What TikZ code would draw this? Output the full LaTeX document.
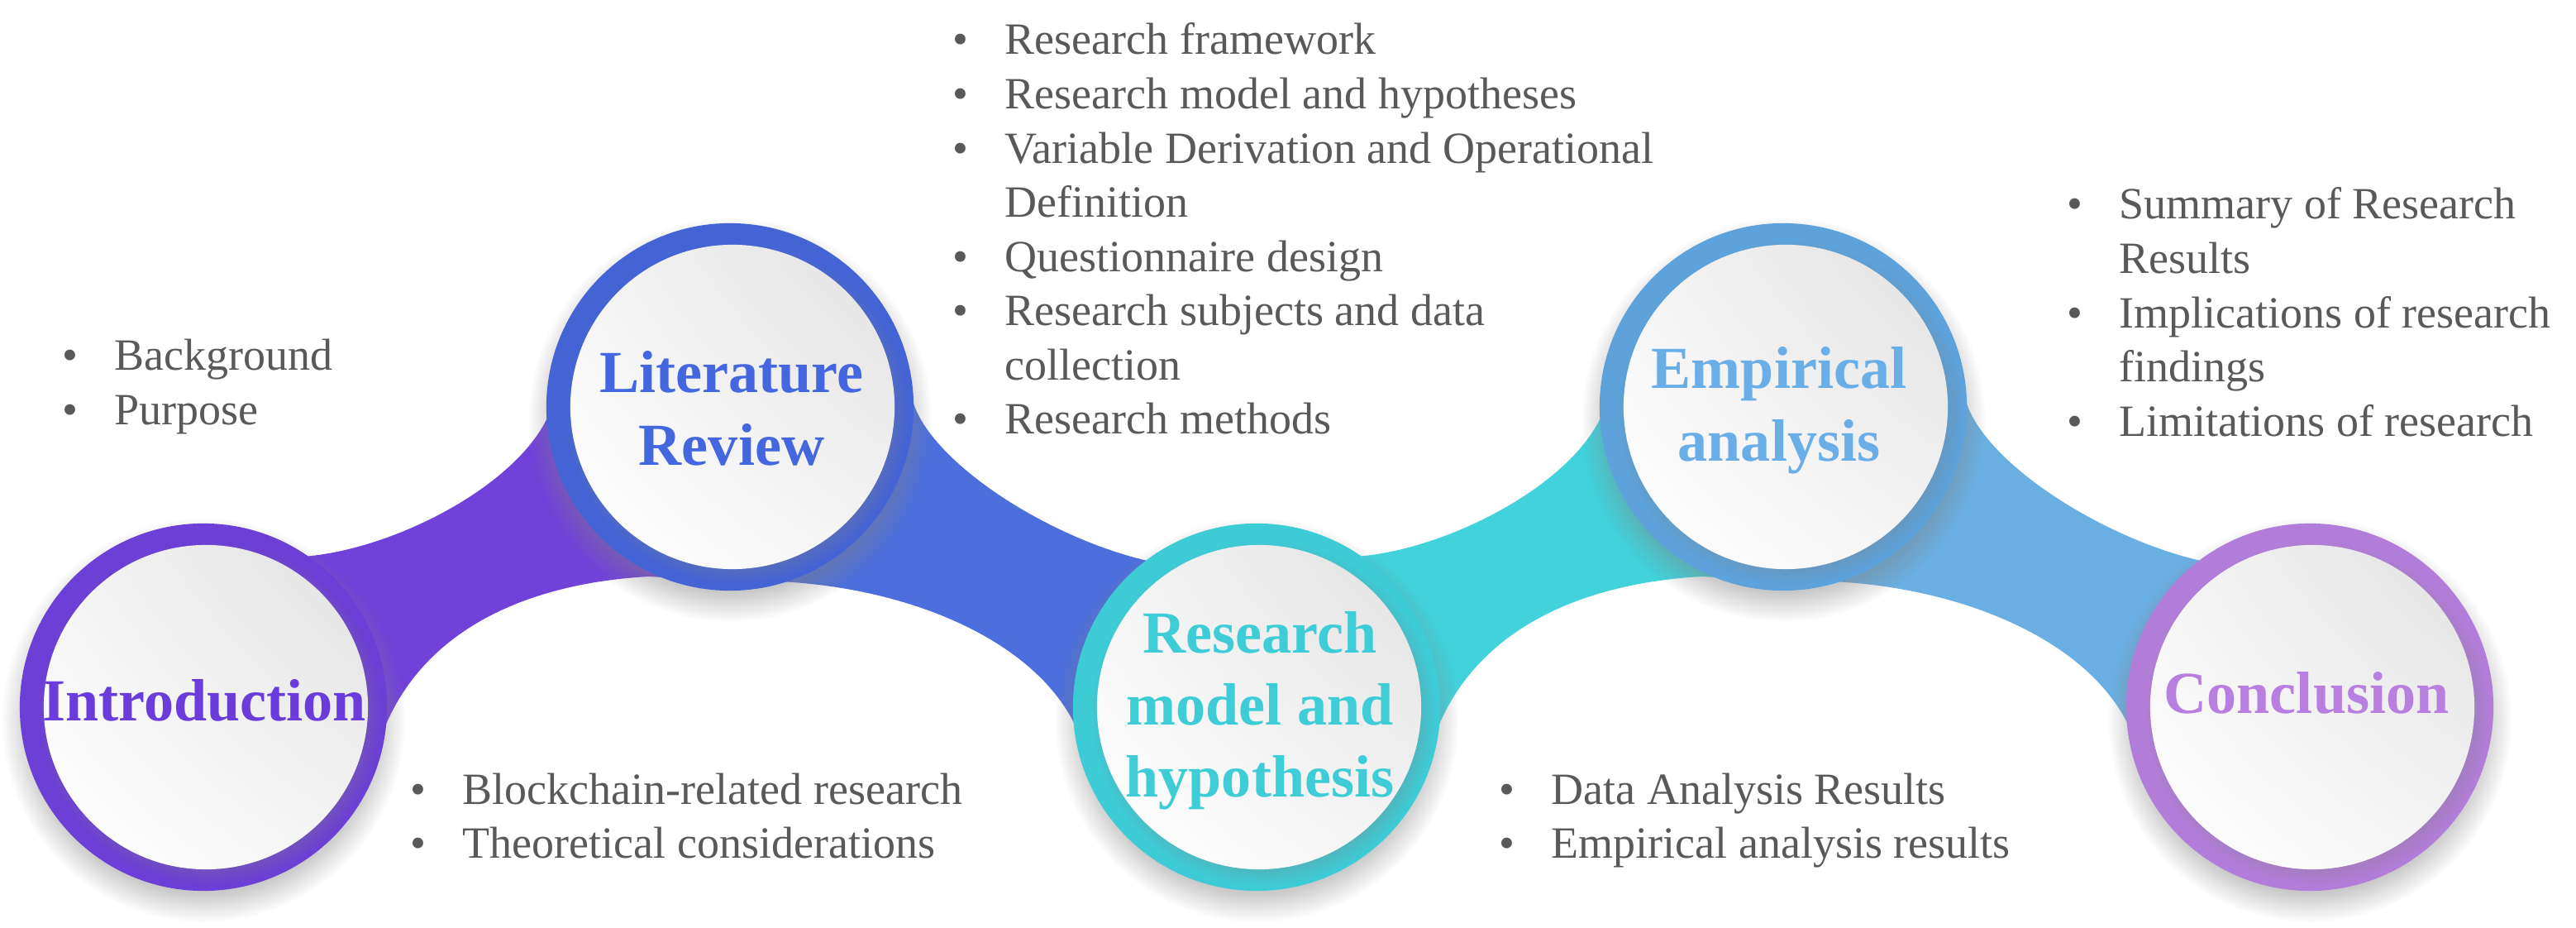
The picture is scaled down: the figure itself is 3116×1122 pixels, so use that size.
\documentclass[tikz,border=0pt]{standalone}
\usepackage{fontspec}
\setmainfont{Liberation Serif}
\usetikzlibrary{shadows,fadings,shadings}
\definecolor{bandA}{HTML}{7142DA}
\definecolor{ringA}{HTML}{6C3FD6}
\definecolor{textA}{HTML}{6A3CDB}
\definecolor{bandB}{HTML}{4C6FDD}
\definecolor{ringB}{HTML}{4464D6}
\definecolor{textB}{HTML}{4466DE}
\definecolor{bandC}{HTML}{41D2DB}
\definecolor{ringC}{HTML}{3DCBD6}
\definecolor{textC}{HTML}{3ECDD7}
\definecolor{bandD}{HTML}{6AAFE2}
\definecolor{ringD}{HTML}{5DA2DA}
\definecolor{textD}{HTML}{6AAEE8}
\definecolor{ringE}{HTML}{B27DD9}
\definecolor{textE}{HTML}{B77FDF}
\definecolor{txtgray}{HTML}{595959}
\begin{document}
\begin{tikzpicture}[x=0.01cm,y=-0.01cm,
  outerc/.style={circle,minimum size=4.44cm,inner sep=0pt,
     circular drop shadow={shadow xshift=0pt,shadow yshift=-4pt,shadow scale=1.1,opacity=0.42}},
  innerc/.style={circle,minimum size=3.92cm,inner sep=0pt,
     upper right=black!12,lower left=white,upper left=black!4,lower right=black!4,
     circular drop shadow={shadow xshift=1.5pt,shadow yshift=-2pt,shadow scale=1.06,opacity=0.4}},
  head/.style={anchor=base,inner sep=0pt,font=\fontsize{20.5}{24.75}\selectfont\bfseries},
  bul/.style={anchor=base west,inner sep=0pt,text=txtgray,font=\fontsize{15.36}{18.63}\selectfont}]
\useasboundingbox (0,0) rectangle (3116,1122);
\fill[white] (0,0) rectangle (3116,1122);
% bands
\fill[bandA] (246,855) -- (366,673) .. controls (480,665) and (640,580) .. (668,490) -- (883,492) -- (883,703) -- (785,697) .. controls (640,705) and (510,760) .. (462,888) -- cycle;
\fill[bandB] (883,492) -- (1103,481) .. controls (1121,556) and (1266,650) .. (1388,678) -- (1520,855) -- (1303,882) .. controls (1248,760) and (1058,695) .. (883,703) -- cycle;
\begin{scope}[shift={(1274,0)}]
\fill[bandC] (246,855) -- (366,673) .. controls (480,665) and (640,580) .. (668,490) -- (883,492) -- (883,703) -- (785,697) .. controls (640,705) and (510,760) .. (462,888) -- cycle;
\fill[bandD] (883,492) -- (1103,481) .. controls (1121,556) and (1266,650) .. (1388,678) -- (1520,855) -- (1303,882) .. controls (1248,760) and (1058,695) .. (883,703) -- cycle;
\end{scope}
% circles
\node[outerc,fill=ringA] (intro) at (246,855) {};
\node[innerc] (introdisc) at (249,855) {};
\node[outerc,fill=ringB] (lit) at (883,492) {};
\node[innerc] (litdisc) at (886,492) {};
\node[outerc,fill=ringC] (rm) at (1520,855) {};
\node[innerc] (rmdisc) at (1523,855) {};
\node[outerc,fill=ringD] (emp) at (2157,492) {};
\node[innerc] (empdisc) at (2160,492) {};
\node[outerc,fill=ringE] (conc) at (2794,855) {};
\node[innerc] (concdisc) at (2797,855) {};
% headings
\node[head,text=textA] (introT) at (247,871) {Introduction};
\node[head,text=textB] (litT) at (885,475) {\begin{tabular}[t]{@{}c@{}}Literature\\Review\end{tabular}};
\node[head,text=textC] (rmT) at (1524,789) {\begin{tabular}[t]{@{}c@{}}Research\\model and\\hypothesis\end{tabular}};
\node[head,text=textD] (empT) at (2152,470) {\begin{tabular}[t]{@{}c@{}}Empirical\\analysis\end{tabular}};
\node[head,text=textE] (concT) at (2790,862) {Conclusion};
% bullet lists
\node[bul] (listA) at (74.5,448) {\begin{tabular}[t]{@{}p{18.07pt}@{}l@{}}\textbullet & Background\\ \textbullet & Purpose\end{tabular}};
\node[bul] (listB) at (1151.5,66) {\begin{tabular}[t]{@{}p{18.07pt}@{}l@{}}\textbullet & Research framework\\ \textbullet & Research model and hypotheses\\ \textbullet & Variable Derivation and Operational\\ & Definition\\ \textbullet & Questionnaire design\\ \textbullet & Research subjects and data\\ & collection\\ \textbullet & Research methods\end{tabular}};
\node[bul] (listC) at (495.5,972) {\begin{tabular}[t]{@{}p{18.07pt}@{}l@{}}\textbullet & Blockchain-related research\\ \textbullet & Theoretical considerations\end{tabular}};
\node[bul] (listD) at (1812.5,972) {\begin{tabular}[t]{@{}p{18.07pt}@{}l@{}}\textbullet & Data Analysis Results\\ \textbullet & Empirical analysis results\end{tabular}};
\node[bul] (listE) at (2499.5,265) {\begin{tabular}[t]{@{}p{18.07pt}@{}l@{}}\textbullet & Summary of Research\\ & Results\\ \textbullet & Implications of research\\ & findings\\ \textbullet & Limitations of research\end{tabular}};
\end{tikzpicture}
\end{document}
